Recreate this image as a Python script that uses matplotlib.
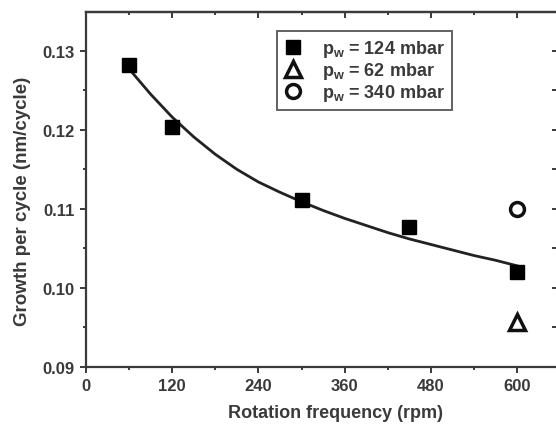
import matplotlib.pyplot as plt
from matplotlib.ticker import MultipleLocator

plt.rcParams['font.family'] = ['Liberation Sans', 'DejaVu Sans']
plt.rcParams['font.weight'] = 'bold'
plt.rcParams['mathtext.default'] = 'bf'

# measured points
freq = [60, 120, 300, 450, 600]
growth_124 = [0.1282, 0.1204, 0.1111, 0.1077, 0.1020]
freq_62 = [600]
growth_62 = [0.0957]
freq_340 = [600]
growth_340 = [0.1100]

# fitted curve
fit_freq = [60, 90, 120, 150, 180, 210, 240, 270, 300, 330, 360, 390, 420,
            450, 480, 510, 540, 570, 600]
fit_growth = [0.1277, 0.1245, 0.1216, 0.1191, 0.1169, 0.1150, 0.1134, 0.1121,
              0.1109, 0.1098, 0.1088, 0.1079, 0.1070, 0.1062, 0.1055, 0.1048,
              0.1041, 0.1035, 0.1028]

xticks = [0, 120, 240, 360, 480, 600]
yticks = [0.09, 0.10, 0.11, 0.12, 0.13]
grey = '#3a3a3a'


def main():
    fig = plt.figure(figsize=(5.56, 4.27), dpi=100)
    ax = fig.add_axes([86 / 556, 59 / 427, 472 / 556, 355 / 427])

    ax.plot(fit_freq, fit_growth, c='#222222', lw=2, zorder=2)
    ax.plot(freq, growth_124, 's', c='black', ms=9.5, zorder=3,
            label=r'p$_\mathregular{w}$ = 124 mbar')
    ax.plot(freq_62, growth_62, '^', mfc='white', mec='#111111', mew=2.5,
            ms=11, zorder=3, label=r'p$_\mathregular{w}$ = 62 mbar')
    ax.plot(freq_340, growth_340, 'o', mfc='white', mec='#111111', mew=2.5,
            ms=10, zorder=3, label=r'p$_\mathregular{w}$ = 340 mbar')

    ax.set_xlim(0, 657)
    ax.set_ylim(0.09, 0.1349)
    ax.set_xticks(xticks)
    ax.set_yticks(yticks)
    ax.set_yticklabels(['%.2f' % v for v in yticks])
    ax.xaxis.set_minor_locator(MultipleLocator(60))
    ax.yaxis.set_minor_locator(MultipleLocator(0.005))
    ax.tick_params(which='both', direction='out', labelsize=12,
                   colors=grey, width=1.4)
    ax.tick_params(which='major', length=4, pad=4)
    ax.tick_params(which='minor', length=2)
    for s in ax.spines.values():
        s.set_linewidth(1.6)
        s.set_color(grey)

    # mirrored ticks on top and right, pointing inward
    top = ax.secondary_xaxis('top')
    top.set_xticks(xticks)
    top.xaxis.set_minor_locator(MultipleLocator(60))
    top.tick_params(which='both', direction='in', labeltop=False,
                    colors=grey, width=1.4)
    top.tick_params(which='major', length=4)
    top.tick_params(which='minor', length=2)
    right = ax.secondary_yaxis('right')
    right.set_yticks(yticks)
    right.yaxis.set_minor_locator(MultipleLocator(0.005))
    right.tick_params(which='both', direction='in', labelright=False,
                      colors=grey, width=1.4, length=4)
    for sec in (top, right):
        for s in sec.spines.values():
            s.set_linewidth(1.6)
            s.set_color(grey)

    ax.set_xlabel('Rotation frequency (rpm)', fontsize=13, color=grey,
                  fontweight='bold')
    ax.set_ylabel('Growth per cycle (nm/cycle)', fontsize=13.5, color=grey,
                  fontweight='bold')
    ax.xaxis.set_label_coords(0.528, -0.104)
    ax.yaxis.set_label_coords(-0.117, 0.468)

    leg = ax.legend(loc='upper left', bbox_to_anchor=(0.405, 0.946),
                    fontsize=13, frameon=True, fancybox=False,
                    edgecolor=grey, handlelength=1.0, handletextpad=1.1,
                    labelspacing=0.05, borderpad=0.4, borderaxespad=0)
    leg.get_frame().set_linewidth(1.4)
    for t in leg.get_texts():
        t.set_color(grey)

    fig.savefig('out.png', dpi=100)


if __name__ == '__main__':
    main()
